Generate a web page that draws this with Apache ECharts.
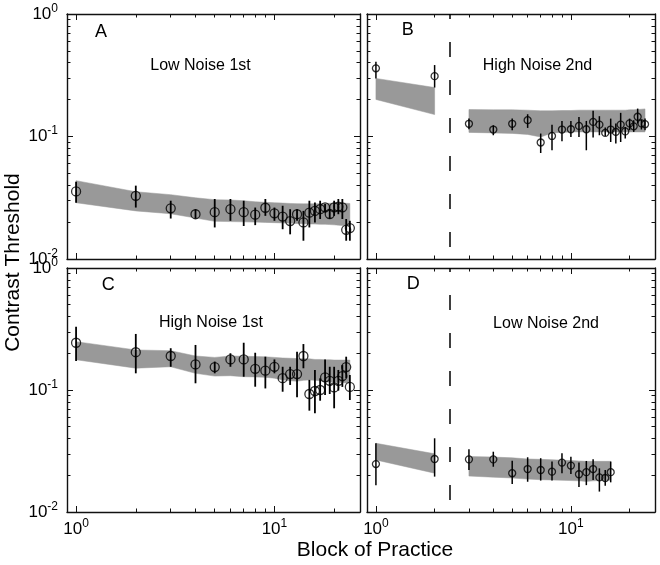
<!DOCTYPE html>
<html><head><meta charset="utf-8">
<script src="https://cdn.jsdelivr.net/npm/echarts@6/dist/echarts.min.js"></script>
<style>html,body{margin:0;padding:0;background:#fff}#c{width:660px;height:565px}</style>
</head><body><div id="c"></div>
<script>
// ---------------- data ----------------
const xTickMajor = [1, 10];
const xTickMinor = [2, 3, 4, 5, 6, 7, 8, 9, 20];
const yTickMajor = [0.01, 0.1, 1];
const yTickMinor = [0.02,0.03,0.04,0.05,0.06,0.07,0.08,0.09,0.2,0.3,0.4,0.5,0.6,0.7,0.8,0.9];

const panelLetters = ['A', 'B', 'C', 'D'];
const panelTitles = ['Low Noise 1st', 'High Noise 2nd', 'High Noise 1st', 'Low Noise 2nd'];
const phaseDivider = 2.4; // dashed line in panels B and D

// Panel A
const blocksA = [1,2,3,4,5,6,7,8,9,10,11,12,13,14,15,16,17,18,19,20,21,22,23,24];
const meanA = [0.0356,0.0328,0.0259,0.0232,0.0241,0.0255,0.0241,0.0230,0.0262,0.0236,0.0222,0.0204,0.0232,0.0199,0.0239,0.0247,0.0255,0.0264,0.0233,0.0264,0.0268,0.0264,0.0173,0.0179];
const hiA = [0.0428,0.0397,0.0299,0.0255,0.0309,0.0309,0.0299,0.0263,0.0309,0.0263,0.0272,0.0255,0.0255,0.0247,0.0299,0.0289,0.0299,0.0281,0.0255,0.0299,0.0309,0.0309,0.0212,0.0205];
const loA = [0.0288,0.0263,0.0214,0.0214,0.0181,0.0205,0.0186,0.0189,0.0225,0.0205,0.0175,0.0159,0.0205,0.0141,0.0181,0.0199,0.0212,0.0240,0.0212,0.0225,0.0232,0.0212,0.0141,0.0141];
const bandHiA = [0.0436,0.0354,0.0335,0.0316,0.0305,0.0303,0.0299,0.0293,0.0290,0.0288,0.0286,0.0284,0.0283,0.0282,0.0282,0.0282,0.0283,0.0284,0.0285,0.0286,0.0286,0.0286,0.0285,0.0284];
const bandLoA = [0.0288,0.0247,0.0234,0.0216,0.0203,0.0202,0.0201,0.0200,0.0199,0.0198,0.0197,0.0196,0.0195,0.0194,0.0193,0.0193,0.0192,0.0192,0.0191,0.0190,0.0189,0.0188,0.0187,0.0186];

// Panel B
const blocksB = [1,2,3,4,5,6,7,8,9,10,11,12,13,14,15,16,17,18,19,20,21,22,23,24];
const meanB = [0.360,0.311,0.127,0.114,0.127,0.136,0.0893,0.101,0.114,0.1146,0.122,0.1146,0.1315,0.125,0.107,0.114,0.109,0.125,0.110,0.128,0.121,0.145,0.128,0.126];
const hiB = [0.407,0.383,0.140,0.1236,0.140,0.152,0.1057,0.125,0.134,0.134,0.1445,0.134,0.162,0.1465,0.1184,0.140,0.1276,0.156,0.1197,0.140,0.1358,0.169,0.1376,0.140];
const loB = [0.298,0.251,0.1146,0.1024,0.1125,0.1175,0.0733,0.0772,0.0914,0.0991,0.0991,0.0772,0.098,0.1024,0.101,0.0902,0.0875,0.0902,0.0962,0.1125,0.109,0.1276,0.114,0.1125];
const bandHiB = [0.298,0.251,0.166,0.165,0.165,0.164,0.162,0.162,0.163,0.163,0.164,0.164,0.164,0.164,0.164,0.164,0.164,0.164,0.164,0.165,0.165,0.166,0.167,0.168];
const bandLoB = [0.2006,0.151,0.108,0.107,0.106,0.104,0.099,0.107,0.108,0.109,0.109,0.109,0.109,0.109,0.109,0.109,0.109,0.109,0.109,0.109,0.109,0.109,0.109,0.109];

// Panel C
const blocksC = [1,2,3,4,5,6,7,8,9,10,11,12,13,14,15,16,17,18,19,20,21,22,23,24];
const meanC = [0.244,0.204,0.190,0.162,0.154,0.178,0.178,0.149,0.144,0.155,0.125,0.135,0.135,0.190,0.0927,0.0981,0.100,0.127,0.119,0.105,0.119,0.130,0.154,0.106];
const hiC = [0.330,0.288,0.220,0.234,0.171,0.200,0.244,0.202,0.1875,0.178,0.155,0.155,0.206,0.238,0.121,0.146,0.1247,0.178,0.155,0.155,0.146,0.160,0.1875,0.1327];
const loC = [0.173,0.137,0.155,0.1135,0.137,0.155,0.1285,0.1064,0.103,0.137,0.0968,0.110,0.0871,0.1507,0.0677,0.0644,0.0817,0.091,0.0927,0.0708,0.0988,0.106,0.125,0.0828];
const bandHiC = [0.249,0.213,0.210,0.190,0.185,0.190,0.189,0.188,0.187,0.185,0.183,0.182,0.181,0.180,0.180,0.178,0.178,0.177,0.177,0.176,0.176,0.176,0.176,0.176];
const bandLoC = [0.177,0.151,0.155,0.137,0.130,0.131,0.1285,0.128,0.127,0.125,0.121,0.119,0.118,0.120,0.121,0.120,0.119,0.117,0.116,0.116,0.115,0.115,0.114,0.114];

// Panel D
const blocksD = [1,2,3,4,5,6,7,8,9,10,11,12,13,14,15,16];
const meanD = [0.0247,0.0272,0.0270,0.0270,0.0208,0.0225,0.0221,0.0214,0.0254,0.0240,0.0204,0.0212,0.0225,0.0192,0.0190,0.0212];
const hiD = [0.0366,0.0402,0.0327,0.0312,0.0263,0.0281,0.0276,0.0259,0.0303,0.0284,0.0254,0.0262,0.0270,0.0228,0.0221,0.0259];
const loD = [0.0166,0.0195,0.0221,0.0235,0.0170,0.0177,0.0181,0.0181,0.0208,0.0205,0.0160,0.0166,0.0183,0.0147,0.0164,0.0175];
const bandHiD = [0.0366,0.0300,0.0285,0.0282,0.0278,0.0272,0.0270,0.0268,0.0266,0.0264,0.0262,0.0260,0.0260,0.0260,0.0260,0.0260];
const bandLoD = [0.0267,0.0208,0.0197,0.0193,0.0190,0.0186,0.0184,0.0183,0.0182,0.0181,0.0180,0.0178,0.0180,0.0181,0.0182,0.0182];

// ---------------- chart ----------------
const FONT = '"Liberation Sans", Arial, Helvetica, sans-serif';
const INK = '#111';
const BAND = '#999999';

const panels = [
  {blocks: blocksA, mean: meanA, hi: hiA, lo: loA, bHi: bandHiA, bLo: bandLoA, divider: null, sym: 9, ew: 1.8, showX: false, showY: true},
  {blocks: blocksB, mean: meanB, hi: hiB, lo: loB, bHi: bandHiB, bLo: bandLoB, divider: phaseDivider, sym: 7, ew: 1.5, showX: false, showY: false},
  {blocks: blocksC, mean: meanC, hi: hiC, lo: loC, bHi: bandHiC, bLo: bandLoC, divider: null, sym: 9, ew: 1.8, showX: true, showY: true},
  {blocks: blocksD, mean: meanD, hi: hiD, lo: loD, bHi: bandHiD, bLo: bandLoD, divider: phaseDivider, sym: 7, ew: 1.5, showX: true, showY: false}
];
const rects = [
  {left: 67, top: 14, width: 293, height: 245},
  {left: 367, top: 14, width: 288, height: 245},
  {left: 67, top: 268, width: 293, height: 244},
  {left: 367, top: 268, width: 288, height: 244}
];

const supFmt = v => '{b|10}{s|' + Math.round(Math.log10(v)) + '}';
const rich = {
  b: {fontSize: 17, fontFamily: FONT, color: '#000'},
  s: {fontSize: 12, fontFamily: FONT, color: '#000', padding: [0, 0, 11, 0]}
};

function mkX(gridIndex, position, ticks, len, line, labels) {
  return {
    type: 'log', logBase: 10, gridIndex, position, min: 0.9, max: 27,
    axisLine: {show: line, onZero: false, lineStyle: {color: INK, width: 1.4}},
    axisTick: {show: true, inside: true, length: len, customValues: ticks, lineStyle: {color: INK, width: 1}},
    axisLabel: labels ? {show: true, customValues: xTickMajor, margin: 6, formatter: supFmt, rich} : {show: false},
    splitLine: {show: false}, minorTick: {show: false}, minorSplitLine: {show: false}
  };
}
function mkY(gridIndex, position, ticks, len, line, labels) {
  return {
    type: 'log', logBase: 10, gridIndex, position, min: 0.01, max: 1,
    axisLine: {show: line, onZero: false, lineStyle: {color: INK, width: 1.4}},
    axisTick: {show: true, inside: true, length: len, customValues: ticks, lineStyle: {color: INK, width: 1}},
    axisLabel: labels ? {show: true, customValues: yTickMajor, margin: 9, formatter: supFmt, rich} : {show: false},
    splitLine: {show: false}, minorTick: {show: false}, minorSplitLine: {show: false}
  };
}

const grid = [], xAxis = [], yAxis = [], series = [];
panels.forEach((p, i) => {
  const r = rects[i];
  const gMain = grid.length; grid.push(Object.assign({}, r));
  const gMinor = grid.length; grid.push(Object.assign({}, r));
  const xi = xAxis.length, yi = yAxis.length;
  xAxis.push(mkX(gMain, 'bottom', xTickMajor, 6, true, p.showX));
  xAxis.push(mkX(gMain, 'top', xTickMajor, 6, true, false));
  xAxis.push(mkX(gMinor, 'bottom', xTickMinor, 3.5, false, false));
  xAxis.push(mkX(gMinor, 'top', xTickMinor, 3.5, false, false));
  yAxis.push(mkY(gMain, 'left', yTickMajor, 6, true, p.showY));
  yAxis.push(mkY(gMain, 'right', yTickMajor, 6, true, false));
  yAxis.push(mkY(gMinor, 'left', yTickMinor, 3.5, false, false));
  yAxis.push(mkY(gMinor, 'right', yTickMinor, 3.5, false, false));

  // model band (gray) as polygons, split at the phase divider
  const segs = [];
  let cur = [];
  p.blocks.forEach((b, k) => {
    if (p.divider !== null && k > 0 && p.blocks[k - 1] < p.divider && b > p.divider) { segs.push(cur); cur = []; }
    cur.push(k);
  });
  segs.push(cur);
  series.push({
    type: 'custom', xAxisIndex: xi, yAxisIndex: yi, silent: true, z: 1, clip: true,
    data: p.blocks.map((b, k) => [b, p.bLo[k], p.bHi[k]]),
    renderItem: (params, api) => {
      if (params.dataIndex !== 0) return null;
      const children = segs.map(seg => {
        const top = seg.map(k => api.coord([p.blocks[k], p.bHi[k]]));
        const bot = seg.slice().reverse().map(k => api.coord([p.blocks[k], p.bLo[k]]));
        return {type: 'polygon', shape: {points: top.concat(bot)}, style: {fill: BAND, stroke: BAND, lineWidth: 0.5}};
      });
      return {type: 'group', children};
    }
  });
  // error bars
  series.push({
    type: 'custom', xAxisIndex: xi, yAxisIndex: yi, silent: true, z: 2,
    data: p.blocks.map((b, k) => [b, p.lo[k], p.hi[k]]),
    renderItem: (params, api) => {
      const a = api.coord([api.value(0), api.value(1)]);
      const c = api.coord([api.value(0), api.value(2)]);
      return {type: 'line', shape: {x1: a[0], y1: a[1], x2: c[0], y2: c[1]}, style: {stroke: '#000', lineWidth: p.ew}};
    }
  });
  // means (open circles)
  const sc = {
    type: 'scatter', xAxisIndex: xi, yAxisIndex: yi, z: 3, silent: true,
    symbol: 'circle', symbolSize: p.sym,
    itemStyle: {color: 'rgba(0,0,0,0)', borderColor: '#000', borderWidth: 1.3},
    emphasis: {disabled: true},
    data: p.blocks.map((b, k) => [b, p.mean[k]])
  };
  if (p.divider !== null) {
    sc.markLine = {
      silent: true, symbol: ['none', 'none'], label: {show: false}, animation: false,
      lineStyle: {color: '#000', width: 1.5, type: [15, 23], dashOffset: 26},
      data: [{xAxis: p.divider}]
    };
  }
  series.push(sc);
});

const graphic = [];
const letterPos = [[95, 31.7], [401.7, 30.5], [101.7, 284.7], [406.7, 284.2]];
const titlePos = [[200.5, 65.8], [537.5, 66], [211, 322.8], [546, 323.3]];
panelLetters.forEach((t, i) => graphic.push({type: 'text', x: letterPos[i][0], y: letterPos[i][1],
  style: {text: t, fontSize: 18, fontFamily: FONT, fill: '#000', textAlign: 'left', textVerticalAlign: 'middle'}}));
panelTitles.forEach((t, i) => graphic.push({type: 'text', x: titlePos[i][0], y: titlePos[i][1],
  style: {text: t, fontSize: 16, fontFamily: FONT, fill: '#000', textAlign: 'center', textVerticalAlign: 'middle'}}));
graphic.push({type: 'text', x: 13.5, y: 262.5, rotation: Math.PI / 2,
  style: {text: 'Contrast Threshold', fontSize: 21, fontFamily: FONT, fill: '#000', textAlign: 'center', textVerticalAlign: 'middle'}});
graphic.push({type: 'text', x: 375, y: 550,
  style: {text: 'Block of Practice', fontSize: 21, fontFamily: FONT, fill: '#000', textAlign: 'center', textVerticalAlign: 'middle'}});

const chart = echarts.init(document.getElementById('c'), null, {renderer: 'canvas'});
chart.setOption({
  animation: false,
  backgroundColor: '#fff',
  grid, xAxis, yAxis, series, graphic
});
</script>
</body></html>
